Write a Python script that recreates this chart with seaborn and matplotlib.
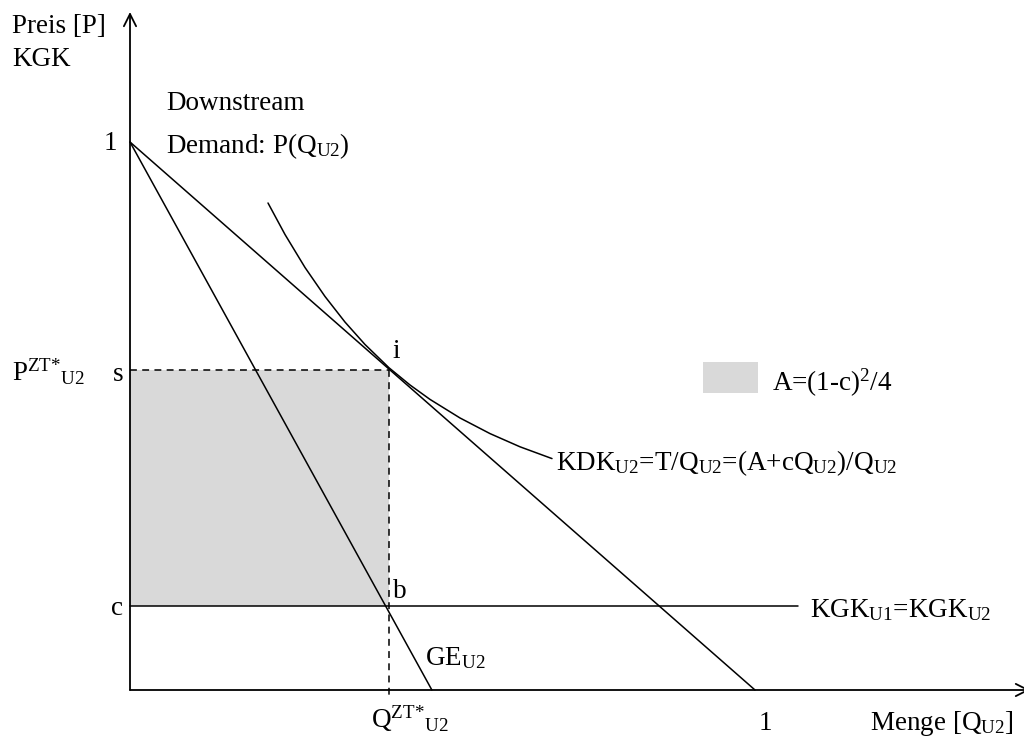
import numpy as np
import pandas as pd
import matplotlib
matplotlib.use("Agg")
import matplotlib.pyplot as plt
import seaborn as sns
from matplotlib.patches import Rectangle

# ---- data (economic units: quantity, price) ----
demand_q = [0.0, 1.0]
demand_p = [1.0, 0.0]
ge_q = [0.0, 0.483]
ge_p = [1.0, 0.0]
c_level = 0.153
s_level = 0.584
q_star = 0.4144
kgk_q = [0.0, 1.069]
kdk_q = [0.2208, 0.2480, 0.2800, 0.3120, 0.3440, 0.3760, 0.4144, 0.4480, 0.4800, 0.5280, 0.5760, 0.6240, 0.6752]
kdk_p = [0.8887, 0.8312, 0.7710, 0.7181, 0.6714, 0.6305, 0.5880, 0.5566, 0.5303, 0.4964, 0.4679, 0.4438, 0.4223]

sns.set_theme(style="white")
plt.rcParams["font.family"] = ["Liberation Serif", "DejaVu Serif"]
plt.rcParams["mathtext.fontset"] = "custom"
plt.rcParams["mathtext.rm"] = "Liberation Serif"
plt.rcParams["mathtext.it"] = "Liberation Serif:italic"
plt.rcParams["mathtext.bf"] = "Liberation Serif:bold"

fig = plt.figure(figsize=(10.24, 7.38), dpi=100)
ax = fig.add_axes([0, 0, 1, 1])
ax.set_xlim(-130 / 625, (1024 - 130) / 625)
ax.set_ylim((690 - 738) / 548, 690 / 548)
ax.axis("off")


def P(px, py):
    return (px - 130) / 625, (690 - py) / 548


FS = 19.5
LW = 1.1
col = "black"

# shaded rectangle A
ax.fill_between([0, q_star], [c_level, c_level], [s_level, s_level], color="#d9d9d9", lw=0, zorder=1)

# lines
sns.lineplot(x=demand_q, y=demand_p, ax=ax, color=col, lw=LW, sort=False, zorder=3)
sns.lineplot(x=ge_q, y=ge_p, ax=ax, color=col, lw=LW, sort=False, zorder=3)
sns.lineplot(x=kgk_q, y=[c_level, c_level], ax=ax, color=col, lw=LW, sort=False, zorder=3)
sns.lineplot(x=kdk_q, y=kdk_p, ax=ax, color=col, lw=LW, sort=False, zorder=3,
             solid_joinstyle="round")

# dashed guides
ax.plot([0, q_star], [s_level, s_level], color=col, lw=LW, dashes=(4.5, 3.5), zorder=2)
ax.plot([q_star, q_star], [s_level, P(0, 695)[1]], color=col, lw=LW, dashes=(4.5, 3.5), zorder=2)

# axes with arrows
ax.annotate("", xy=P(130, 12), xytext=P(130, 690), annotation_clip=False,
            arrowprops=dict(arrowstyle="->", lw=1.3, color=col, mutation_scale=22, shrinkA=0, shrinkB=0))
ax.annotate("", xy=P(1030, 690), xytext=P(130, 690), annotation_clip=False,
            arrowprops=dict(arrowstyle="->", lw=1.3, color=col, mutation_scale=22, shrinkA=0, shrinkB=0))

# legend patch
lx0, ly0 = P(703, 393)
lx1, ly1 = P(758, 362)
ax.add_patch(Rectangle((lx0, ly0), lx1 - lx0, ly1 - ly0, color="#d9d9d9", lw=0))

U2 = r"$_{\mathrm{U2}}$"
U1 = r"$_{\mathrm{U1}}$"


def T(px, py, s, ha="left", **kw):
    ax.text(*P(px, py), s, ha=ha, va="baseline", fontsize=FS, color=col, **kw)


T(12, 33, "Preis [P]")
T(12, 66, "KGK")
T(166, 110, "Downstream")
T(166, 153, "Demand: P(Q" + U2 + ")")
T(117, 150, "1", ha="right")
T(12, 381, r"P$^{\mathrm{ZT}{*}}{}_{\mathrm{U2}}$")
T(123, 381, "s", ha="right")
T(392, 358, "i")
T(393, 598, "b")
T(123, 615, "c", ha="right")
T(425, 665, "GE" + U2)
T(371, 728, r"Q$^{\mathrm{ZT}{*}}{}_{\mathrm{U2}}$")
T(765, 730, "1", ha="center")
T(870, 730, "Menge [Q" + U2 + "]")
T(810, 617, "KGK" + U1 + "=KGK" + U2)
T(556, 470, "KDK" + U2 + "=T/Q" + U2 + "=(A+cQ" + U2 + ")/Q" + U2)
T(772, 391, r"A=(1-c)$^{2}$/4")

fig.savefig("out.png", dpi=100, facecolor="white")
